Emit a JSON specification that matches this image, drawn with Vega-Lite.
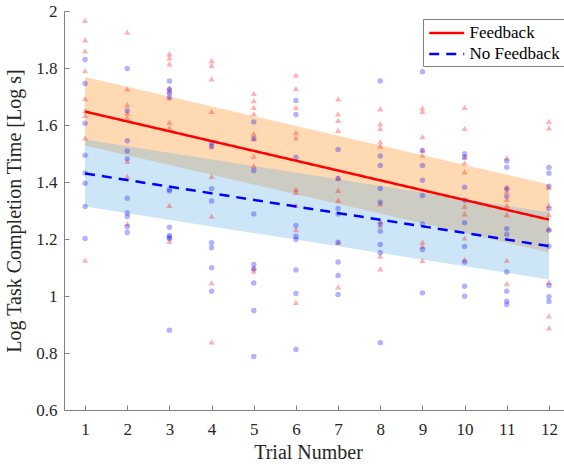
{
  "$schema": "https://vega.github.io/schema/vega-lite/v6.json",
  "autosize": "none",
  "padding": {"left": 64, "top": 11, "right": 0, "bottom": 56},
  "width": 500,
  "height": 399,
  "background": "white",
  "config": {
    "font": "Liberation Serif",
    "view": {"stroke": null},
    "axis": {
      "labelFont": "Liberation Serif", "labelFontSize": 17, "labelColor": "#262626",
      "titleFont": "Liberation Serif", "titleFontSize": 20, "titleFontWeight": "normal", "titleColor": "#262626",
      "domainColor": "#808080", "tickColor": "#808080", "domainWidth": 1, "tickWidth": 1,
      "grid": false, "labelOverlap": false, "labelFlush": false
    },
    "legend": {"labelFont": "Liberation Serif"}
  },
  "datasets": {
    "fits": [
      {"group": "Feedback", "trial": 1, "fit": 1.647, "lo": 1.528, "hi": 1.768},
      {"group": "Feedback", "trial": 12, "fit": 1.268, "lo": 1.153, "hi": 1.391},
      {"group": "No Feedback", "trial": 1, "fit": 1.430, "lo": 1.314, "hi": 1.549},
      {"group": "No Feedback", "trial": 12, "fit": 1.175, "lo": 1.058, "hi": 1.293}
    ],
    "fb": [
      {"trial":1,"value":1.967},{"trial":1,"value":1.899},{"trial":1,"value":1.860},{"trial":1,"value":1.791},{"trial":1,"value":1.693},{"trial":1,"value":1.651},{"trial":1,"value":1.634},{"trial":1,"value":1.555},{"trial":1,"value":1.126},
      {"trial":2,"value":1.926},{"trial":2,"value":1.727},{"trial":2,"value":1.671},{"trial":2,"value":1.642},{"trial":2,"value":1.626},{"trial":2,"value":1.473},{"trial":2,"value":1.420},{"trial":2,"value":1.254},
      {"trial":3,"value":1.850},{"trial":3,"value":1.836},{"trial":3,"value":1.815},{"trial":3,"value":1.731},{"trial":3,"value":1.719},{"trial":3,"value":1.695},{"trial":3,"value":1.609},{"trial":3,"value":1.590},{"trial":3,"value":1.318},{"trial":3,"value":1.192},
      {"trial":4,"value":1.826},{"trial":4,"value":1.809},{"trial":4,"value":1.762},{"trial":4,"value":1.648},{"trial":4,"value":1.524},{"trial":4,"value":1.420},{"trial":4,"value":1.280},{"trial":4,"value":1.046},{"trial":4,"value":0.839},
      {"trial":5,"value":1.711},{"trial":5,"value":1.686},{"trial":5,"value":1.662},{"trial":5,"value":1.640},{"trial":5,"value":1.570},{"trial":5,"value":1.552},{"trial":5,"value":1.491},{"trial":5,"value":1.458},{"trial":5,"value":1.099},{"trial":5,"value":1.087},
      {"trial":6,"value":1.775},{"trial":6,"value":1.728},{"trial":6,"value":1.662},{"trial":6,"value":1.573},{"trial":6,"value":1.555},{"trial":6,"value":1.374},{"trial":6,"value":1.364},{"trial":6,"value":1.318},{"trial":6,"value":1.233},{"trial":6,"value":0.978},
      {"trial":7,"value":1.692},{"trial":7,"value":1.639},{"trial":7,"value":1.616},{"trial":7,"value":1.581},{"trial":7,"value":1.415},{"trial":7,"value":1.371},{"trial":7,"value":1.336},{"trial":7,"value":1.188},{"trial":7,"value":1.032},
      {"trial":8,"value":1.657},{"trial":8,"value":1.605},{"trial":8,"value":1.588},{"trial":8,"value":1.541},{"trial":8,"value":1.526},{"trial":8,"value":1.323},{"trial":8,"value":1.262},{"trial":8,"value":1.247},{"trial":8,"value":1.140},{"trial":8,"value":1.095},
      {"trial":9,"value":1.660},{"trial":9,"value":1.647},{"trial":9,"value":1.559},{"trial":9,"value":1.512},{"trial":9,"value":1.495},{"trial":9,"value":1.189},{"trial":9,"value":1.175},{"trial":9,"value":1.125},
      {"trial":10,"value":1.662},{"trial":10,"value":1.588},{"trial":10,"value":1.487},{"trial":10,"value":1.467},{"trial":10,"value":1.436},{"trial":10,"value":1.315},{"trial":10,"value":1.288},{"trial":10,"value":1.204},{"trial":10,"value":1.128},
      {"trial":11,"value":1.485},{"trial":11,"value":1.382},{"trial":11,"value":1.368},{"trial":11,"value":1.339},{"trial":11,"value":1.318},{"trial":11,"value":1.286},{"trial":11,"value":1.126},{"trial":11,"value":1.044},
      {"trial":12,"value":1.613},{"trial":12,"value":1.590},{"trial":12,"value":1.381},{"trial":12,"value":1.319},{"trial":12,"value":1.286},{"trial":12,"value":1.236},{"trial":12,"value":1.049},{"trial":12,"value":0.930},{"trial":12,"value":0.888}
    ],
    "nf": [
      {"trial":1,"value":1.830},{"trial":1,"value":1.746},{"trial":1,"value":1.606},{"trial":1,"value":1.494},{"trial":1,"value":1.432},{"trial":1,"value":1.396},{"trial":1,"value":1.314},{"trial":1,"value":1.202},
      {"trial":2,"value":1.798},{"trial":2,"value":1.650},{"trial":2,"value":1.545},{"trial":2,"value":1.509},{"trial":2,"value":1.482},{"trial":2,"value":1.343},{"trial":2,"value":1.291},{"trial":2,"value":1.279},{"trial":2,"value":1.243},{"trial":2,"value":1.223},
      {"trial":3,"value":1.754},{"trial":3,"value":1.725},{"trial":3,"value":1.712},{"trial":3,"value":1.698},{"trial":3,"value":1.374},{"trial":3,"value":1.368},{"trial":3,"value":1.241},{"trial":3,"value":1.212},{"trial":3,"value":1.206},{"trial":3,"value":1.201},{"trial":3,"value":0.880},
      {"trial":4,"value":1.538},{"trial":4,"value":1.526},{"trial":4,"value":1.376},{"trial":4,"value":1.333},{"trial":4,"value":1.187},{"trial":4,"value":1.169},{"trial":4,"value":1.099},{"trial":4,"value":1.017},
      {"trial":5,"value":1.611},{"trial":5,"value":1.553},{"trial":5,"value":1.440},{"trial":5,"value":1.288},{"trial":5,"value":1.111},{"trial":5,"value":1.095},{"trial":5,"value":1.046},{"trial":5,"value":0.949},{"trial":5,"value":0.788},
      {"trial":6,"value":1.686},{"trial":6,"value":1.637},{"trial":6,"value":1.487},{"trial":6,"value":1.247},{"trial":6,"value":1.210},{"trial":6,"value":1.198},{"trial":6,"value":1.091},{"trial":6,"value":1.009},{"trial":6,"value":0.812},
      {"trial":7,"value":1.514},{"trial":7,"value":1.412},{"trial":7,"value":1.307},{"trial":7,"value":1.288},{"trial":7,"value":1.189},{"trial":7,"value":1.119},{"trial":7,"value":1.072},{"trial":7,"value":1.005},
      {"trial":8,"value":1.754},{"trial":8,"value":1.491},{"trial":8,"value":1.458},{"trial":8,"value":1.377},{"trial":8,"value":1.329},{"trial":8,"value":1.253},{"trial":8,"value":1.227},{"trial":8,"value":1.181},{"trial":8,"value":1.152},{"trial":8,"value":0.836},
      {"trial":9,"value":1.787},{"trial":9,"value":1.511},{"trial":9,"value":1.458},{"trial":9,"value":1.406},{"trial":9,"value":1.353},{"trial":9,"value":1.253},{"trial":9,"value":1.163},{"trial":9,"value":1.011},
      {"trial":10,"value":1.499},{"trial":10,"value":1.488},{"trial":10,"value":1.382},{"trial":10,"value":1.336},{"trial":10,"value":1.257},{"trial":10,"value":1.174},{"trial":10,"value":1.119},{"trial":10,"value":1.034},{"trial":10,"value":0.999},
      {"trial":11,"value":1.474},{"trial":11,"value":1.452},{"trial":11,"value":1.376},{"trial":11,"value":1.350},{"trial":11,"value":1.236},{"trial":11,"value":1.216},{"trial":11,"value":1.084},{"trial":11,"value":1.017},{"trial":11,"value":0.982},{"trial":11,"value":0.970},
      {"trial":12,"value":1.451},{"trial":12,"value":1.431},{"trial":12,"value":1.385},{"trial":12,"value":1.306},{"trial":12,"value":1.231},{"trial":12,"value":1.175},{"trial":12,"value":1.037},{"trial":12,"value":0.997},{"trial":12,"value":0.981}
    ]
  },
  "layer": [
    {
      "data": {"name": "fits"},
      "transform": [{"filter": "datum.group === 'Feedback'"}],
      "mark": {"type": "area", "color": "#ff8000", "opacity": 0.3},
      "encoding": {
        "x": {"field": "trial", "type": "quantitative", "scale": {"domain": [0.5, 12.357], "nice": false, "zero": false},
              "axis": {"values": [1,2,3,4,5,6,7,8,9,10,11,12], "format": "d", "title": "Trial Number", "tickSize": -5, "labelPadding": 29, "labelBaseline": "alphabetic", "titleX": 244, "titleY": 48, "titleBaseline": "alphabetic", "labelFont": "Liberation Serif", "titleFont": "Liberation Serif"}},
        "y": {"field": "lo", "type": "quantitative", "scale": {"domain": [0.6, 2], "nice": false, "zero": false},
              "axis": {"values": [0.6,0.8,1,1.2,1.4,1.6,1.8,2], "format": "~g", "title": "Log Task Completion Time [Log s]", "tickSize": -5, "labelPadding": 12, "titleX": -50, "titleY": 199.5, "titleAngle": -90, "titleAlign": "center", "titleBaseline": "middle", "labelFont": "Liberation Serif", "titleFont": "Liberation Serif"}},
        "y2": {"field": "hi"}
      }
    },
    {
      "data": {"name": "fits"},
      "transform": [{"filter": "datum.group === 'No Feedback'"}],
      "mark": {"type": "area", "color": "#60b0e7", "opacity": 0.32},
      "encoding": {
        "x": {"field": "trial", "type": "quantitative", "title": "Trial Number"},
        "y": {"field": "lo", "type": "quantitative", "title": "Log Task Completion Time [Log s]"},
        "y2": {"field": "hi"}
      }
    },
    {
      "data": {"name": "fb"},
      "mark": {"type": "point", "shape": "triangle-up", "filled": true, "color": "#ff0000", "opacity": 0.3, "size": 38, "strokeWidth": 0},
      "encoding": {
        "x": {"field": "trial", "type": "quantitative", "title": "Trial Number"},
        "y": {"field": "value", "type": "quantitative", "title": "Log Task Completion Time [Log s]"}
      }
    },
    {
      "data": {"name": "nf"},
      "mark": {"type": "circle", "color": "#0000ff", "opacity": 0.3, "size": 30},
      "encoding": {
        "x": {"field": "trial", "type": "quantitative", "title": "Trial Number"},
        "y": {"field": "value", "type": "quantitative", "title": "Log Task Completion Time [Log s]"}
      }
    },
    {
      "data": {"name": "fits"},
      "mark": {"type": "line", "strokeWidth": 2.5},
      "encoding": {
        "x": {"field": "trial", "type": "quantitative", "title": "Trial Number"},
        "y": {"field": "fit", "type": "quantitative", "title": "Log Task Completion Time [Log s]"},
        "color": {"field": "group", "type": "nominal", "scale": {"domain": ["Feedback", "No Feedback"], "range": ["#ff0000", "#0000ff"]},
                  "legend": {"orient": "none", "legendX": 359, "legendY": 8, "title": null, "symbolType": "M-2,0H2", "symbolSize": 306, "symbolStrokeWidth": 2.5, "symbolOffset": 9.75, "labelOffset": 12.75, "padding": 4, "rowPadding": 3, "strokeColor": "#808080", "fillColor": "white", "labelFont": "Liberation Serif", "labelFontSize": 17, "labelColor": "#000000", "labelLimit": 300}},
        "strokeDash": {"field": "group", "type": "nominal", "scale": {"domain": ["Feedback", "No Feedback"], "range": [[1, 0], [10, 7]]},
                  "legend": {"orient": "none", "legendX": 359, "legendY": 8, "title": null, "symbolType": "M-2,0H2", "symbolSize": 306, "symbolStrokeWidth": 2.5, "symbolOffset": 9.75, "labelOffset": 12.75, "padding": 4, "rowPadding": 3, "strokeColor": "#808080", "fillColor": "white", "labelFont": "Liberation Serif", "labelFontSize": 17, "labelColor": "#000000", "labelLimit": 300}}
      }
    }
  ]
}
